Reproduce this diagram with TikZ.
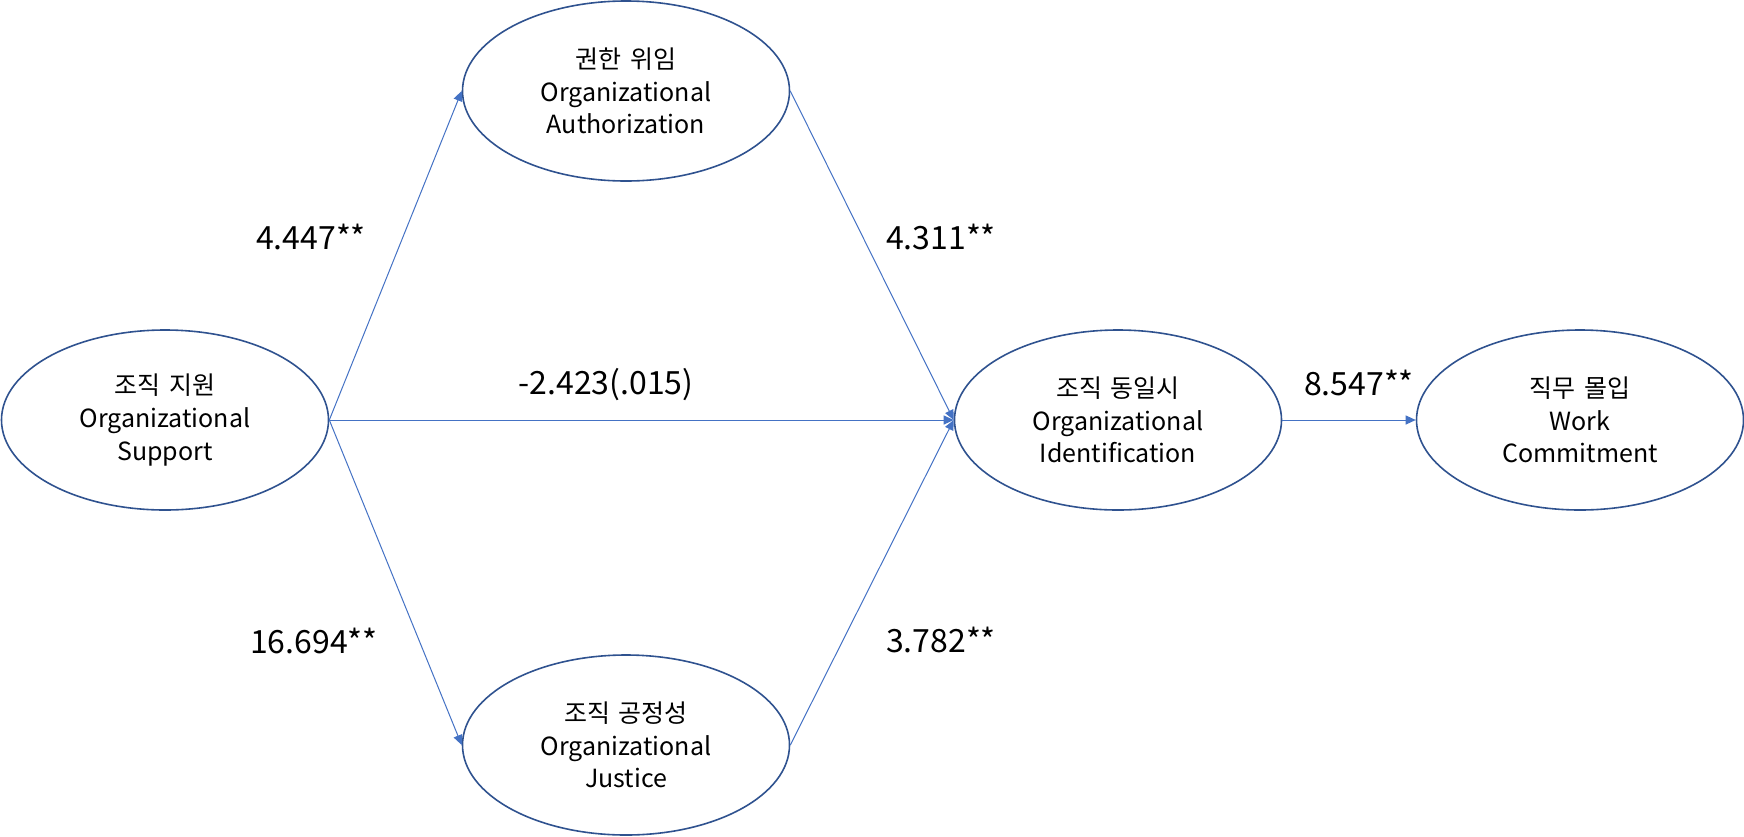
\documentclass[tikz,border=0pt]{standalone}
\usepackage{fontspec}
\setmainfont[WordSpace=1.6]{Noto Sans CJK KR}
\usetikzlibrary{shapes.geometric,arrows.meta}

\definecolor{ovalline}{HTML}{2F528F}
\definecolor{pathline}{HTML}{4472C4}

\tikzset{
  factor/.style={ellipse, draw=ovalline, line width=0.8pt, inner sep=0pt,
    minimum width=163.5pt, minimum height=90pt, align=center,
    font=\fontsize{12.5}{16.3}\selectfont},
  path/.style={draw=pathline, line width=0.5pt,
    -{Triangle[length=5pt,width=4.5pt]}},
  coef/.style={font=\fontsize{16}{19}\selectfont, inner sep=0pt}
}

\begin{document}
\begin{tikzpicture}[x=0.5pt,y=-0.5pt]
\useasboundingbox (0,0) rectangle (1744,836);

% Organizational Support
\node[factor] (support) at (165,420) {조직 지원\\Organizational\\Support};

% Organizational Authorization
\node[factor] (auth) at (626,91) {권한 위임\\Organizational\\Authorization};

% Organizational Justice
\node[factor] (justice) at (626,745) {조직 공정성\\Organizational\\Justice};

% Organizational Identification
\node[factor] (ident) at (1118,420) {조직 동일시\\Organizational\\Identification};

% Work Commitment
\node[factor] (work) at (1580,420) {직무 몰입\\Work\\Commitment};

% paths
\draw[path] (support.east) -- (auth.west);
\draw[path] (support.east) -- (justice.west);
\draw[path] (support.east) -- (ident.west);
\draw[path] (auth.east) -- (ident.west);
\draw[path] (justice.east) -- (ident.west);
\draw[path] (ident.east) -- (work.west);

% coefficients
\node[coef] (c1) at (311,237) {4.447**};
\node[coef] (c2) at (941,237) {4.311**};
\node[coef] (c3) at (606,385) {-2.423(.015)};
\node[coef] (c4) at (1359,383) {8.547**};
\node[coef] (c5) at (314,641) {16.694**};
\node[coef] (c6) at (941,640) {3.782**};

\end{tikzpicture}
\end{document}
